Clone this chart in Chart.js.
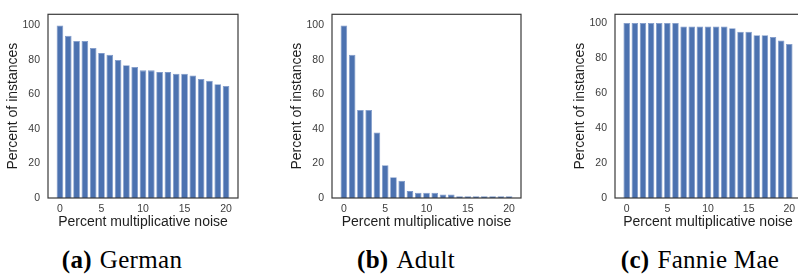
<!DOCTYPE html>
<html>
<head>
<meta charset="utf-8">
<script src="https://cdn.jsdelivr.net/npm/chart.js@4.4.1/dist/chart.umd.min.js"></script>
<style>
  html, body { margin: 0; padding: 0; background: #fff; }
  body { position: relative; width: 798px; height: 276px; overflow: hidden; }
  canvas { position: absolute; top: 0; }
  .cap {
    position: absolute; top: 247px;
    font-family: "Liberation Serif", "Times New Roman", serif;
    font-size: 25px; line-height: 26px; color: #000;
    letter-spacing: 0.3px; white-space: nowrap;
    transform: translateX(-50%);
  }
  .cap span { margin-left: 8px; }
</style>
</head>
<body>
<canvas id="chart-german" width="240" height="231" style="left:0px"></canvas>
<canvas id="chart-adult" width="240" height="231" style="left:284px"></canvas>
<canvas id="chart-fannie" width="240" height="231" style="left:567px"></canvas>

<div class="cap" style="left:122px"><b>(a)</b><span>German</span></div>
<div class="cap" style="left:406px"><b>(b)</b><span>Adult</span></div>
<div class="cap" style="left:700px"><b>(c)</b><span>Fannie Mae</span></div>

<script>
// percent multiplicative noise (x positions of the bars)
const noiseLevels = [0, 1, 2, 3, 4, 5, 6, 7, 8, 9, 10, 11, 12, 13, 14, 15, 16, 17, 18, 19, 20];

// percent of instances
const germanPct = [100, 94, 91, 91, 87, 84, 83, 80, 77, 76, 74, 74, 73, 73, 72, 72, 71, 69, 68, 66, 65];
const adultPct = [100, 83, 51, 51, 38, 19, 12, 10, 4, 3, 3, 3, 2, 2, 1, 1, 1, 1, 1, 1, 1];
const fannieMaePct = [100, 100, 100, 100, 100, 100, 100, 98, 98, 98, 98, 98, 98, 97, 95, 95, 93, 93, 92, 90, 88];

const xTickValues = [0, 5, 10, 15, 20];
const yTickValues = [0, 20, 40, 60, 80, 100];

const BAR = "#4c72b0";
const BAR_EDGE = "#7d98c9";
const EDGE = "#3a3a3a";
const TICK = "#3c3c3c";
const TITLE = "#1e1e1e";
const FONT = "'Liberation Sans', Arial, sans-serif";

// box round the plot area (matplotlib spines)
const framePlugin = {
  id: "frame",
  afterDraw(chart) {
    const a = chart.chartArea;
    const ctx = chart.ctx;
    ctx.save();
    ctx.strokeStyle = EDGE;
    ctx.lineWidth = 1.2;
    ctx.strokeRect(a.left, a.top, a.right - a.left, a.bottom - a.top);
    ctx.restore();
  }
};

function ticksFrom(list) {
  return function (axis) { axis.ticks = list.map(function (v) { return { value: v }; }); };
}

function makeChart(id, values, o) {
  return new Chart(document.getElementById(id), {
    type: "bar",
    data: {
      datasets: [{
        data: noiseLevels.map(function (x, i) { return { x: x, y: values[i] }; }),
        backgroundColor: BAR,
        borderColor: BAR_EDGE,
        borderWidth: 0.8,
        barPercentage: 0.8,
        categoryPercentage: 1,
      }],
    },
    options: {
      responsive: false,
      animation: false,
      events: [],
      layout: { padding: { top: o.top, right: o.right, left: 0, bottom: 0 } },
      plugins: { legend: { display: false }, tooltip: { enabled: false } },
      scales: {
        x: {
          type: "linear",
          offset: false,
          min: -1.44,
          max: 21.44,
          afterBuildTicks: ticksFrom(xTickValues),
          afterFit: function (a) { a.height = 33; },
          grid: { display: false, drawTicks: false },
          border: { display: false },
          ticks: { padding: 5, color: TICK, font: { family: FONT, size: 10.5 }, maxRotation: 0 },
          title: {
            display: true, text: "Percent multiplicative noise", color: TITLE,
            font: { family: FONT, size: 14 }, padding: { top: 0, bottom: 0 },
          },
        },
        y: {
          min: 0,
          max: o.ymax,
          afterBuildTicks: ticksFrom(yTickValues),
          afterFit: function (a) { a.width = 48; },
          grid: { display: false, drawTicks: false },
          border: { display: false },
          ticks: { padding: 8, color: TICK, font: { family: FONT, size: 10.5 } },
          title: {
            display: true, text: "Percent of instances", color: TITLE,
            font: { family: FONT, size: 14 }, padding: { top: 5, bottom: 0 },
          },
        },
      },
    },
    plugins: [framePlugin],
  });
}

makeChart("chart-german", germanPct, { top: 6, right: 2, ymax: 106.5 });
makeChart("chart-adult", adultPct, { top: 6, right: 3, ymax: 106.5 });
makeChart("chart-fannie", fannieMaePct, { top: 12, right: 6, ymax: 105 });
</script>
</body>
</html>
